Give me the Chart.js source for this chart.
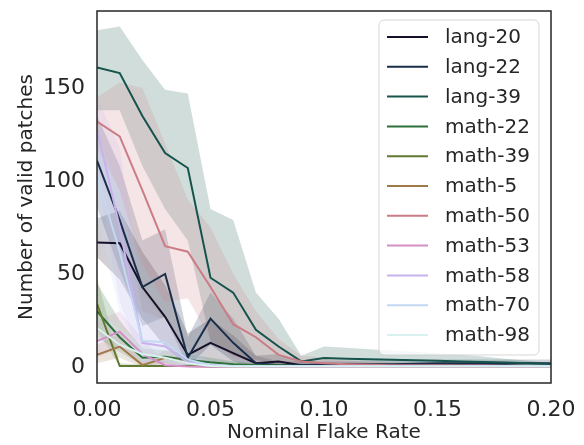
<!DOCTYPE html>
<html>
<head>
<meta charset="utf-8">
<script src="https://cdn.jsdelivr.net/npm/chart.js@4"></script>
<style>
    html, body { margin: 0; padding: 0; background: #ffffff; }
</style>
</head>
<body>
<canvas id="chart" width="584" height="445"></canvas>
<script>
// x positions (nominal flake rate)
const flakeRates = [0, 0.01, 0.02, 0.03, 0.04, 0.05, 0.06, 0.07, 0.08, 0.09, 0.10,
                    0.11, 0.12, 0.13, 0.14, 0.15, 0.16, 0.17, 0.18, 0.19, 0.20];
const xTicks = [0, 0.05, 0.10, 0.15, 0.20];
const yTicks = [0, 50, 100, 150];

const names = ["lang-20", "lang-22", "lang-39", "math-22", "math-39", "math-5",
               "math-50", "math-53", "math-58", "math-70", "math-98"];

// mean number of valid patches, plus upper / lower band
const lang20 = [67, 66.5, 43, 27, 6.5, 13, 7.5, 2, 3, 1, 1, 1, 1, 1, 1, 1, 0.8, 0.8, 0.8, 0.6, 0.6];
const lang20Hi = [80, 84, 62, 44, 18, 26, 17, 6, 7, 3, 2.5, 2.5, 2.2, 2, 2, 2, 1.8, 1.6, 1.5, 1.3, 1.2];
const lang20Lo = [59, 47, 26, 11, 0, 3, 1, 0, 0, 0, 0, 0, 0, 0, 0, 0, 0, 0, 0, 0, 0];

const lang22 = [111, 79, 43, 50, 5, 26, 13, 2, 1, 1, 1.5, 1.5, 1.5, 1.5, 1.8, 2, 2, 2, 2, 2, 2];
const lang22Hi = [135, 108, 68, 74, 16, 40, 26, 6, 3, 3, 3.5, 3.5, 3.5, 3.5, 3.8, 4, 4, 4, 4, 4, 4];
const lang22Lo = [86, 52, 22, 27, 0, 12, 3, 0, 0, 0, 0, 0, 0, 0, 0, 0, 0.2, 0.2, 0.2, 0.2, 0.2];

const lang39 = [161, 158, 135, 115, 107, 48, 40, 20, 11, 3, 4.8, 4.5, 4.2, 3.9, 3.6, 3.3, 3.0, 2.7, 2.4, 2.0, 1.6];
const lang39Hi = [181, 183, 165, 149, 147, 85, 79, 40, 26, 6, 11, 10.3, 9.6, 8.9, 8.2, 7.4, 6.6, 5.6, 4.5, 3.3, 2.2];
const lang39Lo = [138, 138, 108, 85, 68, 14, 6, 4, 1, 0.5, 1.5, 1.4, 1.3, 1.2, 1.1, 1.0, 0.9, 0.8, 0.7, 0.6, 0.5];

const math22 = [30, 16, 5, 5.5, 3.8, 2.5, 1.5, 1, 1, 0.5, 0.5, 0.5, 0.5, 0.5, 0.3, 0.3, 0.3, 0.3, 0.3, 0.3, 0.3];
const math22Hi = [45, 25, 10, 9, 7, 5, 3, 2, 2, 1, 1, 1, 1, 1, 0.8, 0.8, 0.8, 0.8, 0.8, 0.8, 0.8];
const math22Lo = [16, 8, 1, 2, 1, 0.5, 0, 0, 0, 0, 0, 0, 0, 0, 0, 0, 0, 0, 0, 0, 0];

const math39 = [34, 0.5, 0.5, 0.5, 0.5, 0.3, 0.3, 0.3, 0.3, 0.3, 0.3, 0.3, 0.3, 0.3, 0.3, 0.3, 0.3, 0.3, 0.3, 0.3, 0.3];
const math39Hi = [48, 2, 1.5, 1, 1, 0.8, 0.8, 0.8, 0.8, 0.8, 0.8, 0.8, 0.8, 0.8, 0.8, 0.8, 0.8, 0.8, 0.8, 0.8, 0.8];
const math39Lo = [20, 0, 0, 0, 0, 0, 0, 0, 0, 0, 0, 0, 0, 0, 0, 0, 0, 0, 0, 0, 0];

const math5 = [6.5, 11, 1, 5, 2.3, 0.3, 0.2, 0.2, 0.2, 0.2, 0.2, 0.2, 0.2, 0.2, 0.2, 0.2, 0.2, 0.2, 0.2, 0.2, 0.2];
const math5Hi = [12, 18, 3, 9, 5, 1, 0.5, 0.5, 0.5, 0.5, 0.5, 0.5, 0.5, 0.5, 0.5, 0.5, 0.5, 0.5, 0.5, 0.5, 0.5];
const math5Lo = [2, 5, 0, 1.5, 0, 0, 0, 0, 0, 0, 0, 0, 0, 0, 0, 0, 0, 0, 0, 0, 0];

const math50 = [132, 124, 95, 65, 62, 43, 23, 16, 6.5, 3, 2, 1.5, 1.2, 1, 1, 1, 0.8, 0.8, 0.6, 0.6, 0.5];
const math50Hi = [145, 153, 150, 120, 90, 75, 50, 30, 15, 6, 5, 3.5, 3, 2.5, 2.2, 2, 1.8, 1.6, 1.4, 1.2, 1];
const math50Lo = [118, 95, 55, 35, 37, 15, 5, 3, 0.5, 0.5, 0, 0, 0, 0, 0, 0, 0, 0, 0, 0, 0];

const math53 = [14, 19, 7, 1, 0.3, 0.2, 0.2, 0.2, 0.2, 0.2, 0.2, 0.2, 0.2, 0.2, 0.2, 0.2, 0.2, 0.2, 0.2, 0.2, 0.2];
const math53Hi = [25, 30, 15, 3, 1, 0.5, 0.5, 0.5, 0.5, 0.5, 0.5, 0.5, 0.5, 0.5, 0.5, 0.5, 0.5, 0.5, 0.5, 0.5, 0.5];
const math53Lo = [5, 10, 1, 0, 0, 0, 0, 0, 0, 0, 0, 0, 0, 0, 0, 0, 0, 0, 0, 0, 0];

const math58 = [128, 75, 13, 11, 2.6, 1, 0.5, 0.5, 0.5, 0.5, 0.5, 0.5, 0.5, 0.5, 0.5, 0.5, 0.5, 0.5, 0.5, 0.5, 0.5];
const math58Hi = [145, 118, 38, 25, 8, 3, 1, 1, 1, 1, 1, 1, 1, 1, 1, 1, 1, 1, 1, 1, 1];
const math58Lo = [105, 35, 3, 2, 0, 0, 0, 0, 0, 0, 0, 0, 0, 0, 0, 0, 0, 0, 0, 0, 0];

const math70 = [103, 62, 14, 13.5, 4, 1, 0.5, 0.5, 0.5, 0.5, 0.5, 0.5, 0.5, 0.5, 0.5, 0.5, 0.5, 0.5, 0.5, 0.5, 0.5];
const math70Hi = [125, 95, 30, 25, 10, 3, 1, 1, 1, 1, 1, 1, 1, 1, 1, 1, 1, 1, 1, 1, 1];
const math70Lo = [80, 30, 3, 3, 0, 0, 0, 0, 0, 0, 0, 0, 0, 0, 0, 0, 0, 0, 0, 0, 0];

const math98 = [21, 12, 7, 5, 2, 0.5, 0.3, 0.3, 0.3, 0.3, 0.3, 0.3, 0.3, 0.3, 0.3, 0.3, 0.3, 0.3, 0.3, 0.3, 0.3];
const math98Hi = [30, 20, 12, 9, 4, 1.5, 0.8, 0.8, 0.8, 0.8, 0.8, 0.8, 0.8, 0.8, 0.8, 0.8, 0.8, 0.8, 0.8, 0.8, 0.8];
const math98Lo = [12, 5, 2, 1, 0.5, 0, 0, 0, 0, 0, 0, 0, 0, 0, 0, 0, 0, 0, 0, 0, 0];

// seaborn cubehelix, 11 colours
const palette = [
    [24, 16, 42], [24, 46, 73], [22, 83, 76], [43, 111, 57], [96, 122, 47], [160, 121, 73],
    [203, 124, 133], [212, 144, 198], [199, 179, 237], [194, 216, 243], [217, 242, 239]
];

const series = [
    [lang20, lang20Hi, lang20Lo], [lang22, lang22Hi, lang22Lo], [lang39, lang39Hi, lang39Lo],
    [math22, math22Hi, math22Lo], [math39, math39Hi, math39Lo], [math5, math5Hi, math5Lo],
    [math50, math50Hi, math50Lo], [math53, math53Hi, math53Lo], [math58, math58Hi, math58Lo],
    [math70, math70Hi, math70Lo], [math98, math98Hi, math98Lo]
];

const TEXT = "#262626";
const FONT = "'DejaVu Sans', sans-serif";

const toPoints = arr => arr.map((v, i) => ({ x: flakeRates[i], y: v }));
const rgba = (c, a) => `rgba(${c[0]},${c[1]},${c[2]},${a})`;

// bands: upper filled down to lower (next dataset), lines drawn on top
const datasets = [];
series.forEach(([mean, hi, lo], i) => {
    datasets.push({
        label: names[i] + " hi", data: toPoints(hi),
        borderWidth: 0, pointRadius: 0, backgroundColor: rgba(palette[i], 0.2),
        fill: "+1", order: 100 - i
    });
    datasets.push({
        label: names[i] + " lo", data: toPoints(lo),
        borderWidth: 0, pointRadius: 0, fill: false, order: 100 - i
    });
});
series.forEach(([mean], i) => {
    datasets.push({
        label: names[i], data: toPoints(mean),
        borderColor: rgba(palette[i], 1), borderWidth: 2,
        pointRadius: 0, fill: false, order: -i, tension: 0
    });
});

// keep the plot box where the reference has it
const noPad = s => { s.paddingTop = 0; s.paddingBottom = 0; s.paddingLeft = 0; s.paddingRight = 0; };

// spines and in-plot legend
const framePlugin = {
    id: "frame",
    afterDraw(chart) {
        const { ctx, chartArea: a } = chart;
        ctx.save();

        // legend box
        const bx = 379, by = 20, bw = 160, bh = 335;
        ctx.beginPath();
        ctx.roundRect(bx, by, bw, bh, 5);
        ctx.fillStyle = "rgba(255,255,255,0.8)";
        ctx.fill();
        ctx.strokeStyle = "rgba(204,204,204,0.8)";
        ctx.lineWidth = 1;
        ctx.stroke();

        ctx.font = "20px " + FONT;
        ctx.textBaseline = "middle";
        ctx.textAlign = "left";
        names.forEach((name, i) => {
            const y = 37 + i * 29.8;
            ctx.strokeStyle = rgba(palette[i], 1);
            ctx.lineWidth = 2;
            ctx.beginPath();
            ctx.moveTo(387, y);
            ctx.lineTo(428, y);
            ctx.stroke();
            ctx.fillStyle = TEXT;
            ctx.fillText(name, 445, y + 1);
        });

        // four spines
        ctx.strokeStyle = TEXT;
        ctx.lineWidth = 1.5;
        ctx.strokeRect(a.left, a.top, a.right - a.left, a.bottom - a.top);
        ctx.restore();
    }
};

new Chart(document.getElementById("chart"), {
    type: "line",
    data: { datasets },
    plugins: [framePlugin],
    options: {
        responsive: false,
        animation: false,
        layout: { padding: { top: 11, right: 33, left: 0, bottom: 0 } },
        plugins: {
            legend: { display: false },
            tooltip: { enabled: false }
        },
        scales: {
            x: {
                type: "linear",
                min: 0,
                max: 0.2,
                afterBuildTicks: s => { s.ticks = xTicks.map(v => ({ value: v })); },
                afterFit: s => { s.height = 62; noPad(s); },
                grid: { display: false, drawTicks: false },
                border: { display: false },
                ticks: {
                    color: TEXT, padding: 14, maxRotation: 0,
                    font: { family: FONT, size: 22 },
                    callback: v => v.toFixed(2)
                },
                title: {
                    display: true, text: "Nominal Flake Rate", color: TEXT,
                    font: { family: FONT, size: 20 }, padding: { top: 0, bottom: 0 }
                }
            },
            y: {
                min: -8.6,
                max: 191.4,
                afterBuildTicks: s => { s.ticks = yTicks.map(v => ({ value: v })); },
                afterFit: s => { s.width = 97; noPad(s); },
                grid: { display: false, drawTicks: false },
                border: { display: false },
                ticks: {
                    color: TEXT, padding: 12,
                    font: { family: FONT, size: 22 }
                },
                title: {
                    display: true, text: "Number of valid patches", color: TEXT,
                    font: { family: FONT, size: 20 }, padding: { top: 15, bottom: 0 }
                }
            }
        }
    }
});
</script>
</body>
</html>
